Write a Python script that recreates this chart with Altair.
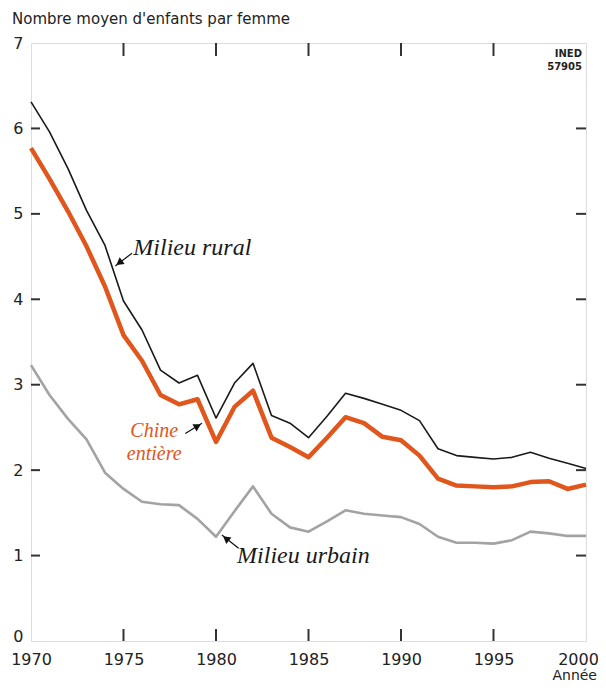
import altair as alt
import pandas as pd

years = list(range(1970, 2001))
rural = [6.31, 5.96, 5.53, 5.04, 4.63, 3.98, 3.64, 3.17, 3.02, 3.11, 2.61, 3.02, 3.25, 2.64, 2.55,
         2.38, 2.63, 2.90, 2.84, 2.77, 2.70, 2.58, 2.25, 2.17, 2.15, 2.13, 2.15, 2.21, 2.14, 2.08, 2.02]
chine = [5.77, 5.41, 5.03, 4.62, 4.15, 3.58, 3.28, 2.88, 2.77, 2.83, 2.33, 2.74, 2.93, 2.38, 2.27,
         2.15, 2.38, 2.62, 2.55, 2.39, 2.35, 2.17, 1.90, 1.82, 1.81, 1.80, 1.81, 1.86, 1.87, 1.78, 1.83]
urbain = [3.23, 2.88, 2.60, 2.36, 1.97, 1.78, 1.63, 1.60, 1.59, 1.43, 1.22, 1.52, 1.81, 1.49, 1.33,
          1.28, 1.40, 1.53, 1.49, 1.47, 1.45, 1.37, 1.22, 1.15, 1.15, 1.14, 1.18, 1.28, 1.26, 1.23, 1.23]

x_ticks = [1970, 1975, 1980, 1985, 1990, 1995, 2000]
x_inner_ticks = [1975, 1980, 1985, 1990, 1995]
y_ticks = [0, 1, 2, 3, 4, 5, 6, 7]
y_inner_ticks = [1, 2, 3, 4, 5, 6]

title_text = "Nombre moyen d'enfants par femme"
x_title = "Année"
source_lines = ["INED", "57905"]

# annotation labels (year, value)
ann_black = pd.DataFrame({"x": [1975.53, 1981.14], "y": [4.60, 0.99],
                          "label": ["Milieu rural", "Milieu urbain"]})
ann_orange = pd.DataFrame({"x": [1976.66, 1976.66], "y": [2.456, 2.186],
                           "label": ["Chine", "entière"]})
# arrows: tail -> tip, plus arrowhead position and angle
arrow_lines = pd.DataFrame({
    "id": ["r", "r", "c", "c", "u", "u"],
    "x": [1975.46, 1974.56, 1978.34, 1979.24, 1981.22, 1980.32],
    "y": [4.54, 4.39, 2.43, 2.55, 1.085, 1.24],
})
arrow_heads = pd.DataFrame({
    "x": [1974.77, 1979.01, 1980.54],
    "y": [4.426, 2.515, 1.20],
    "angle": [233, 60, 308],
})

W, H = 555, 598
TXT = "#222222"
FRAME = "#333333"

df = pd.DataFrame({"year": years * 3,
                   "value": rural + chine + urbain,
                   "serie": ["rural"] * 31 + ["chine"] * 31 + ["urbain"] * 31})

xs = alt.Scale(domain=[1970, 2000], nice=False, zero=False)
ys = alt.Scale(domain=[0, 7], nice=False, zero=True)

xaxis = alt.Axis(values=x_ticks, format="d", title=None, grid=False, domain=False, ticks=False,
                 labelFont="DejaVu Sans", labelFontSize=16, labelColor=TXT, labelPadding=10,
                 labelOverlap=False, labelBound=False, labelFlush=False,
                 labelOffset={"condition": {"test": "datum.value == 2000", "value": -8}, "value": 0})
yaxis = alt.Axis(values=y_ticks, title=None, grid=False, domain=False, ticks=False,
                 labelFont="DejaVu Sans", labelFontSize=16, labelColor=TXT, labelPadding=8,
                 labelOverlap=False, labelFlush=False,
                 labelOffset={"condition": {"test": "datum.value == 0", "value": -5}, "value": 0})

def X(field):
    return alt.X(field, scale=xs, axis=xaxis)

def Y(field):
    return alt.Y(field, scale=ys, axis=yaxis)

def line(serie, color, width):
    return alt.Chart(df).transform_filter(alt.datum.serie == serie).mark_line(
        color=color, strokeWidth=width, strokeJoin="round", strokeCap="butt"
    ).encode(x=X("year:Q"), y=Y("value:Q"))

l_urb = line("urbain", "#A3A3A3", 2.6)
l_rur = line("rural", "#1A1A1A", 1.6)
l_chi = line("chine", "#E0561C", 4.5)

ydf = pd.DataFrame({"v": y_inner_ticks})
xdf = pd.DataFrame({"yr": x_inner_ticks})
tick_l = alt.Chart(ydf).mark_rule(color=FRAME, strokeWidth=2).encode(
    y=Y("v:Q"), x=alt.value(0), x2=alt.value(9))
tick_r = alt.Chart(ydf).mark_rule(color=FRAME, strokeWidth=2).encode(
    y=Y("v:Q"), x=alt.value(W), x2=alt.value(W - 10))
tick_t = alt.Chart(xdf).mark_rule(color=FRAME, strokeWidth=2).encode(
    x=X("yr:Q"), y=alt.value(0), y2=alt.value(13))
tick_b = alt.Chart(xdf).mark_rule(color=FRAME, strokeWidth=2).encode(
    x=X("yr:Q"), y=alt.value(H), y2=alt.value(H - 12))

t_black = alt.Chart(ann_black).mark_text(
    font="Liberation Serif", fontStyle="italic", fontSize=24, color="#1A1A1A",
    align="left", baseline="middle").encode(x=X("x:Q"), y=Y("y:Q"), text="label:N")
t_orange = alt.Chart(ann_orange).mark_text(
    font="Liberation Serif", fontStyle="italic", fontSize=20, color="#E0561C",
    align="center", baseline="middle").encode(
    x=X("x:Q"), y=Y("y:Q"), text="label:N")

a_lines = alt.Chart(arrow_lines).mark_line(color="#111111", strokeWidth=1.2).encode(
    x=X("x:Q"), y=Y("y:Q"), detail="id:N")
a_heads = alt.Chart(arrow_heads).mark_point(
    shape="triangle-up", filled=True, color="#111111", size=70, opacity=1).encode(
    x=X("x:Q"), y=Y("y:Q"), angle=alt.Angle("angle:Q", scale=None))

t_title = alt.Chart(pd.DataFrame({"t": [title_text]})).mark_text(
    font="DejaVu Sans", fontSize=15, color=TXT, align="left", baseline="middle").encode(
    x=alt.value(-19), y=alt.value(-24), text="t:N")
t_xtitle = alt.Chart(pd.DataFrame({"t": [x_title]})).mark_text(
    font="DejaVu Sans", fontSize=14, color=TXT, align="right", baseline="middle").encode(
    x=alt.value(W + 11), y=alt.value(H + 35), text="t:N")
t_src1 = alt.Chart(pd.DataFrame({"t": [source_lines[0]]})).mark_text(
    font="DejaVu Sans", fontSize=10, fontWeight="bold", color=TXT, align="right",
    baseline="middle").encode(x=alt.value(W - 4), y=alt.value(11), text="t:N")
t_src2 = alt.Chart(pd.DataFrame({"t": [source_lines[1]]})).mark_text(
    font="DejaVu Sans", fontSize=10, fontWeight="bold", color=TXT, align="right",
    baseline="middle").encode(x=alt.value(W - 4), y=alt.value(24), text="t:N")

chart = alt.layer(
    l_urb, l_rur, l_chi, tick_l, tick_r, tick_t, tick_b,
    a_lines, a_heads, t_black, t_orange, t_title, t_xtitle, t_src1, t_src2
).properties(
    width=W, height=H,
    autosize=alt.AutoSizeParams(type="none"),
    padding={"left": 23, "top": 35, "right": 12, "bottom": 42},
).configure_view(stroke=FRAME, strokeWidth=2).configure(background="white")

chart.save("out.html", embed_options={"renderer": "svg", "actions": False})
